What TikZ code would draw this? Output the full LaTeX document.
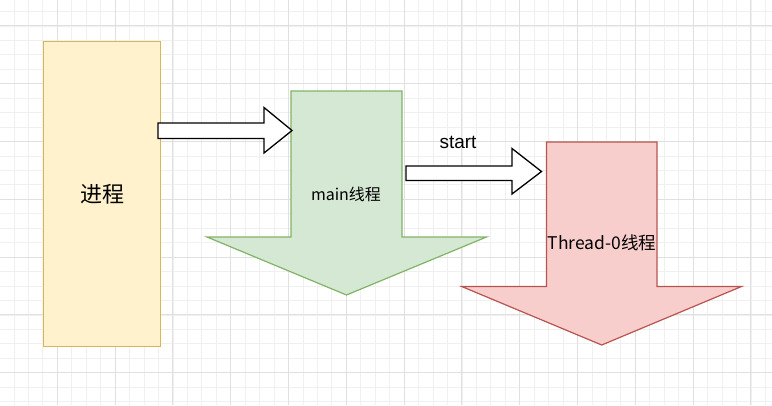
\documentclass[tikz,border=0pt]{standalone}
\usepackage{fontspec}
\newfontfamily\cjk{Noto Sans CJK SC}
\newfontfamily\lsans{Liberation Sans}
\definecolor{gridminor}{HTML}{F0F0F0}
\definecolor{gridmajor}{HTML}{E0E0E0}
\definecolor{yfill}{HTML}{FFF2CC}
\definecolor{ydraw}{HTML}{D6B656}
\definecolor{gfill}{HTML}{D5E8D4}
\definecolor{gdraw}{HTML}{82B366}
\definecolor{rfill}{HTML}{F8CECC}
\definecolor{rdraw}{HTML}{B85450}
\tikzset{
  minorline/.style={draw=gridminor, line width=0.8pt},
  majorline/.style={draw=gridmajor, line width=0.9pt},
  blockarrow/.style={draw=black, fill=white, line width=1.3pt, line join=miter},
  label/.style={font=\cjk\fontsize{16}{19}\selectfont, inner sep=0pt},
}
\begin{document}
\begin{tikzpicture}[x=1pt,y=-1pt]
\useasboundingbox (0,0) rectangle (772,405);
\fill[white] (0,0) rectangle (772,405);
% grid
\foreach \k in {0,...,54}{
  \pgfmathsetmacro\xx{14.45*\k-0.5}
  \draw[minorline] (\xx,0) -- (\xx,405);
}
\foreach \k in {0,...,28}{
  \pgfmathsetmacro\yy{14.45*\k-3}
  \draw[minorline] (0,\yy) -- (772,\yy);
}
\foreach \k in {0,4,...,52}{
  \pgfmathsetmacro\xx{14.45*\k-0.5}
  \draw[majorline] (\xx,0) -- (\xx,405);
}
\foreach \k in {2,6,...,26}{
  \pgfmathsetmacro\yy{14.45*\k-3}
  \draw[majorline] (0,\yy) -- (772,\yy);
}
% process box
\node[draw=ydraw, fill=yfill, line width=1.3pt, minimum width=117pt, minimum height=305pt, anchor=north west, inner sep=0pt, font=\cjk\fontsize{22}{26}\selectfont] (proc) at (43,41) {进程};
% green down arrow
\draw[draw=gdraw, fill=gfill, line width=1.2pt, line join=miter]
  (291,91) -- (402,91) -- (402,237) -- (486.5,237) -- (346.5,295) -- (207,237) -- (291,237) -- cycle;
\node[label] (mainlbl) at (346,194) {main线程};
% red down arrow
\draw[draw=rdraw, fill=rfill, line width=1.2pt, line join=miter]
  (546.5,142) -- (657,142) -- (657,286.5) -- (741.5,286.5) -- (601.7,345) -- (461.7,286.5) -- (546.5,286.5) -- cycle;
\node[label, font=\cjk\fontsize{17.5}{20}\selectfont] (thrlbl) at (602,243) {Thread-0线程};
% block arrow 1
\draw[blockarrow]
  (158,123) -- (264,123) -- (264,107.5) -- (292,130.5) -- (264,153) -- (264,138.5) -- (158,138.5) -- cycle;
% block arrow 2
\draw[blockarrow]
  (406,166) -- (512,166) -- (512,148.5) -- (541.5,171.5) -- (512,194) -- (512,180.5) -- (406,180.5) -- cycle;
\node[font=\lsans\fontsize{19}{22}\selectfont, inner sep=0pt] (startlbl) at (458,142) {start};
\end{tikzpicture}
\end{document}
